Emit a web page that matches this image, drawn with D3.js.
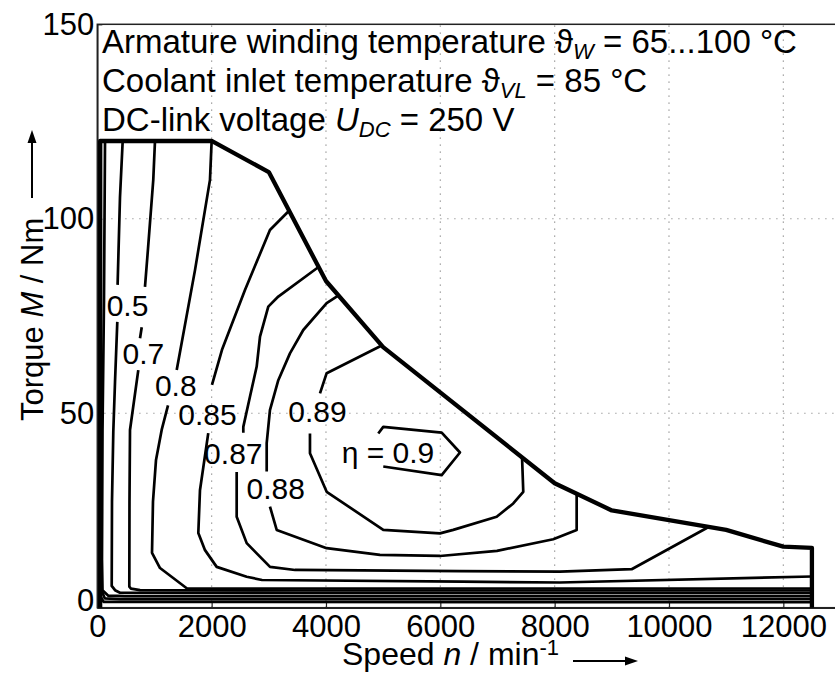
<!DOCTYPE html>
<html>
<head>
<meta charset="utf-8">
<script src="https://cdn.jsdelivr.net/npm/d3@7"></script>
<style>
  html, body { margin: 0; padding: 0; background: #fff; }
  svg { display: block; font-family: "Liberation Sans", Arial, Helvetica, sans-serif; }
</style>
</head>
<body>
<svg id="chart" width="835" height="673"></svg>
<script>
// Axis ticks and grid
const speedTicks = [0, 2000, 4000, 6000, 8000, 10000, 12000];
const torqueTicks = [0, 50, 100, 150];
const speedGrid = [2000, 4000, 6000, 8000, 10000, 12000];
const torqueGrid = [50, 100];

// Operating limit (max torque vs. speed), [speed min^-1, torque Nm]
const operatingLimit = [
  [50, 0], [50, 120], [2000, 120], [3000, 112], [4000, 84], [5000, 67],
  [8000, 32], [9000, 25], [11000, 20], [12000, 15.7], [12500, 15.4], [12500, 0]
];

// Efficiency isolines; each is a list of segments (broken where a label sits)
const eta050 = [
  [[444, 120], [397, 105.6], [355, 83]],
  [[350, 73.5], [310, 58.1], [280, 45.3], [257, 27.3], [252, 5.6], [310, 4.5], [397, 3.85], [3545, 3.78], [12500, 3.78]]
];
const eta070 = [
  [[1009, 120], [979, 110], [887, 92.3], [834, 82.5]],
  [[777, 72.1], [747, 69.3]],
  [[717, 61.1], [572, 45.7], [563, 27.3], [560, 5.4], [589, 4.9], [747, 4.5], [3545, 4.42], [12500, 4.42]]
];
const eta080 = [
  [[2000, 120], [1971, 110], [1709, 86.8], [1389, 61.1]],
  [[1237, 52.0], [1126, 45.7], [1027, 38.0], [974, 27.3], [957, 14.1], [1097, 10.2], [1564, 5.0], [2670, 4.94], [12500, 4.94]]
];
const eta085 = [
  [[3350, 102], [3020, 97.1], [2583, 81.7], [2181, 66.3], [2006, 57.3]],
  [[1941, 44.9], [1796, 30.2], [1767, 19.2], [1884, 14.8], [2088, 10.5], [2613, 7.97], [2881, 7.12], [6379, 6.68], [8093, 6.48], [12500, 8.02]]
];
const eta087 = [
  [[3870, 87.6], [3166, 80.0], [2991, 77.4], [2846, 69.7], [2788, 62.0], [2671, 54.3], [2554, 46.5], [2554, 45.0]],
  [[2438, 34.9], [2438, 23.4], [2613, 16.6], [3021, 10.5], [3458, 9.7], [6343, 9.4], [8093, 9.3], [9347, 9.9], [10700, 20.8]]
];
const eta088 = [
  [[4220, 80.3], [4012, 78.3], [3603, 71.4], [3370, 65.4], [3166, 58.5], [3020, 50.8], [2963, 42.3], [2963, 35.0]],
  [[3020, 26.0], [3138, 20.0], [4012, 15.3], [4944, 13.6], [5994, 13.3], [6991, 14.6], [7975, 17.6], [8385, 20.0], [8385, 29.3]]
];
const eta089 = [
  [[4975, 67.4], [4012, 60.3], [3895, 55.1]],
  [[3720, 44.8], [3720, 39.7], [4012, 29.8], [5002, 20.0], [5994, 19.1], [6226, 20.0], [6986, 23.4], [7276, 26.8], [7451, 29.8], [7430, 38.6]]
];
const eta090 = [
  [[4915, 44.8], [5002, 46.5], [6024, 45.0], [6344, 39.9], [6024, 34.1], [5002, 36.3]]
];
// Lower, unlabelled isolines hugging the zero-torque edge
const etaLow1 = [
  [[135, 120], [117, 79], [91, 45.7], [82, 12.3], [91, 4.5], [192, 3.1], [484, 3.0], [12500, 3.0]]
];
const etaLow2 = [
  [[60, 120], [60, 5], [130, 2.4], [400, 2.2], [12500, 2.2]]
];
const etaLow3 = [
  [[55, 120], [55, 3], [110, 1.5], [12500, 1.4]]
];

const isolines = [etaLow3, etaLow2, etaLow1, eta050, eta070, eta080, eta085, eta087, eta088, eta089, eta090];

// Inline isoline labels, centred at [speed, torque]
const isolineLabels = [
  { text: "0.5", speed: 528, torque: 77.7 },
  { text: "0.7", speed: 805, torque: 65.5 },
  { text: "0.8", speed: 1373, torque: 57.3 },
  { text: "0.85", speed: 1927, torque: 49.8 },
  { text: "0.87", speed: 2379, torque: 39.7 },
  { text: "0.88", speed: 3122, torque: 30.7 },
  { text: "0.89", speed: 3851, torque: 50.4 },
  { text: "η = 0.9", speed: 5084, torque: 40.0 }
];

const svg = d3.select("#chart");
const FS = 30;

const x = d3.scaleLinear().domain([0, 13000]).range([97.3, 840.5]);
const y = d3.scaleLinear().domain([0, 150]).range([607.7, 24.3]);

// Dotted grid
const grid = svg.append("g").attr("stroke", "#8c8c8c").attr("stroke-width", 1.2)
  .attr("stroke-dasharray", "1.2,5.8");
grid.selectAll("line.v").data(speedGrid).join("line")
  .attr("x1", d => x(d)).attr("x2", d => x(d))
  .attr("y1", y(0)).attr("y2", y(150));
grid.selectAll("line.h").data(torqueGrid).join("line")
  .attr("x1", x(0)).attr("x2", x(13000))
  .attr("y1", d => y(d)).attr("y2", d => y(d));

// Frame
svg.append("rect")
  .attr("x", x(0)).attr("y", y(150))
  .attr("width", x(13000) - x(0)).attr("height", y(0) - y(150))
  .attr("fill", "none").attr("stroke", "#222").attr("stroke-width", 1.5);

// Axes with inward ticks
const xAxis = d3.axisBottom(x).tickValues(speedTicks).tickFormat(d3.format("d"))
  .tickSizeInner(-5).tickSizeOuter(0).tickPadding(7);
const yAxis = d3.axisLeft(y).tickValues(torqueTicks).tickFormat(d3.format("d"))
  .tickSizeInner(-5).tickSizeOuter(0).tickPadding(3);

const gx = svg.append("g").attr("transform", `translate(0,${y(0)})`).call(xAxis);
const gy = svg.append("g").attr("transform", `translate(${x(0)},0)`).call(yAxis);
[gx, gy].forEach(g => {
  g.select(".domain").attr("stroke", "#222").attr("stroke-width", 1.5);
  g.selectAll(".tick line").attr("stroke", "#222").attr("stroke-width", 1.2);
  g.selectAll(".tick text").attr("fill", "#000").attr("font-size", 31)
    .attr("font-family", "Liberation Sans, Arial, sans-serif");
});
// lift the zero torque label clear of the speed axis labels
gy.selectAll(".tick").filter(d => d === 0).select("text").attr("y", -7);

// Isolines
const line = d3.line().x(d => x(d[0])).y(d => y(d[1]));
const iso = svg.append("g").attr("fill", "none").attr("stroke", "#000")
  .attr("stroke-width", 2.7).attr("stroke-linejoin", "round");
isolines.forEach(segs => {
  iso.selectAll(null).data(segs).join("path").attr("d", line);
});

// Operating limit
svg.append("path").datum(operatingLimit)
  .attr("d", line).attr("fill", "none").attr("stroke", "#000")
  .attr("stroke-width", 4.3).attr("stroke-linejoin", "round");

// Isoline labels
svg.append("g").selectAll("text").data(isolineLabels).join("text")
  .attr("x", d => x(d.speed)).attr("y", d => y(d.torque))
  .attr("dy", "0.36em").attr("text-anchor", "middle")
  .attr("font-size", FS).attr("fill", "#000")
  .text(d => d.text);

// Operating conditions
const TFS = 33, SFS = 22;
const info = svg.append("g").attr("font-size", TFS).attr("fill", "#000");
const sub = (t, s, italic) => {
  t.append("tspan").attr("font-size", SFS).attr("dy", 6)
    .attr("font-style", italic ? "italic" : null).text(s);
};
const l1 = info.append("text").attr("x", 102).attr("y", 53);
l1.append("tspan").text("Armature winding temperature ϑ");
sub(l1, "W", true);
l1.append("tspan").attr("dy", -6).text(" = 65...100 °C");

const l2 = info.append("text").attr("x", 102).attr("y", 92);
l2.append("tspan").text("Coolant inlet temperature ϑ");
sub(l2, "VL", true);
l2.append("tspan").attr("dy", -6).text(" = 85 °C");

const l3 = info.append("text").attr("x", 102).attr("y", 131);
l3.append("tspan").text("DC-link voltage ");
l3.append("tspan").attr("font-style", "italic").text("U");
sub(l3, "DC", true);
l3.append("tspan").attr("dy", -6).text(" = 250 V");

// Axis titles with arrows
const xt = svg.append("text").attr("x", 342).attr("y", 665).attr("font-size", 32).attr("fill", "#000");
xt.append("tspan").text("Speed ");
xt.append("tspan").attr("font-style", "italic").text("n");
xt.append("tspan").text(" / min");
xt.append("tspan").attr("font-size", 22).attr("dy", -10).text("-1");

const yt = svg.append("text").attr("transform", "translate(43,421) rotate(-90)")
  .attr("font-size", 31).attr("fill", "#000");
yt.append("tspan").text("Torque ");
yt.append("tspan").attr("font-style", "italic").text("M");
yt.append("tspan").text(" / Nm");

const arrow = (x1, y1, x2, y2) => {
  const g = svg.append("g");
  const ang = Math.atan2(y2 - y1, x2 - x1);
  const L = 13, W = 4.5;
  const bx = x2 - L * Math.cos(ang), by = y2 - L * Math.sin(ang);
  g.append("line").attr("x1", x1).attr("y1", y1).attr("x2", bx).attr("y2", by)
    .attr("stroke", "#000").attr("stroke-width", 2);
  g.append("path").attr("d",
    `M${x2},${y2}L${bx - W * Math.sin(ang)},${by + W * Math.cos(ang)}L${bx + W * Math.sin(ang)},${by - W * Math.cos(ang)}Z`)
    .attr("fill", "#000");
};
arrow(573, 661, 638, 661);
arrow(32, 198, 32, 130);
</script>
</body>
</html>
